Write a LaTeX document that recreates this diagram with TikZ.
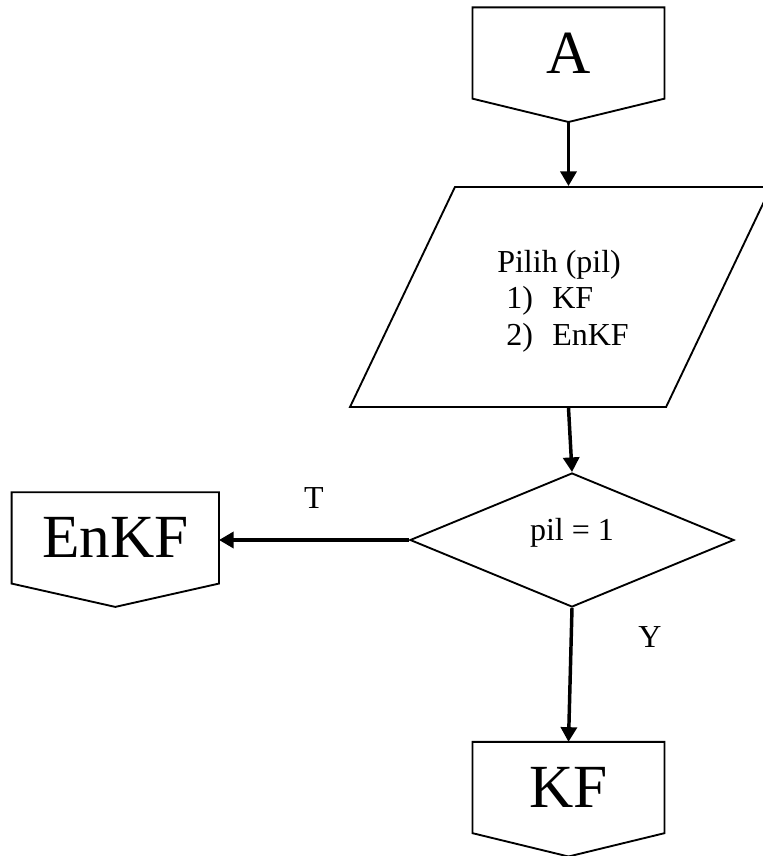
\documentclass[tikz,border=0pt]{standalone}
\usepackage{fontspec}
\setmainfont{Liberation Serif}
\usepackage{tikz}
\usetikzlibrary{shapes.geometric,arrows.meta}
\tikzstyle{offpage} = [rectangle, inner sep=0pt, outer sep=0pt,
    minimum height=68.5pt, font=\fontsize{46}{50}\selectfont]
\tikzstyle{outline} = [draw, line width=1.4pt, line join=miter]
\tikzstyle{io} = [trapezium, trapezium left angle=64.5, trapezium right angle=115.5,
    trapezium stretches body, draw, line width=1.4pt, minimum width=315.75pt,
    inner xsep=0pt, inner ysep=82.5pt]
\tikzstyle{decision} = [diamond, draw, line width=1.4pt, minimum width=243pt,
    minimum height=100.5pt, inner sep=0pt, text height=8pt, text depth=8pt,
    font=\fontsize{24}{27.5}\selectfont]
\tikzstyle{line} = [draw, line width=2.6pt, -{Triangle[length=11pt,width=12pt]}]
\tikzstyle{lbl} = [inner sep=0pt, font=\fontsize{24}{27.5}\selectfont]

\begin{document}
\begin{tikzpicture}[x=0.75pt, y=-0.75pt]
    \useasboundingbox (0,0) rectangle (763,856);
    % Place nodes
    % Connectors
    \node [offpage, minimum width=144pt] (A) at (568.5,53) {A};
    \node [offpage, minimum width=155.5pt] (EnKF) at (115.3,537.9) {EnKF};
    \node [offpage, minimum width=144pt] (KF) at (568.5,787.5) {KF};
    \foreach \n in {A,EnKF,KF} {
        \coordinate (\n-tip) at ([yshift=-17.5pt]\n.south);
        \draw [outline] (\n.north west) -- (\n.north east) -- (\n.south east)
            -- (\n-tip) -- (\n.south west) -- cycle;
    }

    % Input and decision
    \node [io] (pil) at (560.5,297) {};
    \node [lbl, align=left] (piltext) at (563,301) {Pilih (pil)\\
        \hspace*{6.75pt}\makebox[34.5pt][l]{1)}KF\\
        \hspace*{6.75pt}\makebox[34.5pt][l]{2)}EnKF};
    \node [decision] (cek) at (572,540) {pil = 1};

    % Draw edges
    \path [line] (A-tip) -- (A-tip |- pil.north);
    \path [line] (A-tip |- pil.south) -- (cek.north);
    \path [line] (cek.west) -- node[lbl, midway, above=22pt] {T} (cek.west -| EnKF.east);
    \path [line] (cek.south) -- node[lbl, pos=.22, right=49pt] {Y} (KF.north);

\end{tikzpicture}
\end{document}
